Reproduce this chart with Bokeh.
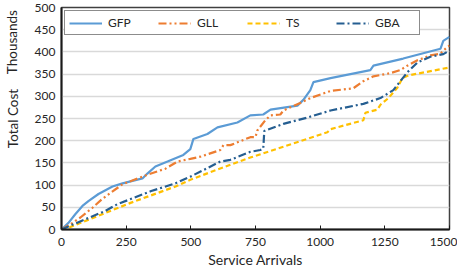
import math
from bokeh.plotting import figure
from bokeh.models import Range1d, FixedTicker, LinearAxis
from bokeh.embed import file_html
from bokeh.resources import INLINE

# ---- data (cost in thousands) ----
gfp_x = [0, 27, 54, 81, 104, 143, 197, 236, 313, 332, 363, 410, 471, 498, 510, 564, 603, 680, 730, 780, 808, 912, 935, 962, 974, 1040, 1194, 1206, 1321, 1465, 1476, 1500]
gfp_y = [0, 15, 35, 53, 64, 80, 97, 104, 115, 126, 142, 153, 168, 181, 204, 215, 230, 241, 257, 259, 270, 279, 292, 314, 332, 341, 359, 369, 385, 407, 425, 434]

gll_x = [0, 43, 73, 120, 158, 236, 286, 336, 402, 448, 498, 537, 614, 626, 653, 730, 750, 757, 788, 808, 846, 858, 923, 962, 1040, 1128, 1167, 1206, 1271, 1310, 1337, 1376, 1426, 1465, 1491, 1500]
gll_y = [0, 15, 27, 49, 69, 102, 113, 124, 137, 153, 159, 164, 179, 190, 190, 208, 208, 223, 246, 257, 259, 268, 285, 296, 312, 318, 334, 345, 352, 359, 369, 381, 392, 396, 411, 414]

ts_x = [0, 27, 267, 441, 498, 653, 730, 1028, 1040, 1167, 1175, 1221, 1233, 1264, 1298, 1318, 1341, 1500]
ts_y = [0, 4, 60, 97, 112, 146, 162, 219, 226, 246, 263, 270, 281, 296, 319, 341, 347, 365]

gba_x = [0, 35, 170, 216, 344, 441, 498, 614, 653, 730, 769, 780, 784, 858, 950, 1040, 1167, 1233, 1283, 1310, 1337, 1376, 1426, 1476, 1500]
gba_y = [0, 9, 42, 57, 86, 104, 119, 153, 157, 175, 179, 182, 222, 238, 252, 268, 283, 296, 314, 334, 354, 376, 389, 395, 403]

x_ticks = [0, 250, 500, 750, 1000, 1250, 1500]
y_ticks = [0, 50, 100, 150, 200, 250, 300, 350, 400, 450, 500]

x_title = "Service Arrivals"
y_title = "Total Cost"
y_unit = "Thousands"

FONT = "Lato"
TXT = "#262626"

p = figure(width=457, height=270, output_backend="svg", toolbar_location=None,
           x_range=Range1d(0, 1500), y_range=Range1d(0, 500),
           min_border_left=61, min_border_right=8, min_border_top=7, min_border_bottom=41,
           background_fill_color="white", border_fill_color="white")

p.line(gfp_x, gfp_y, line_color="#5B9BD5", line_width=2.2, legend_label="GFP")
p.line(gll_x, gll_y, line_color="#ED7D31", line_width=2.2, line_dash="8 3 2 3 2 3", legend_label="GLL")
p.line(ts_x, ts_y, line_color="#FFC000", line_width=2.2, line_dash="5 3", legend_label="TS")
p.line(gba_x, gba_y, line_color="#255E91", line_width=2.2, line_dash="8 3 2 3", legend_label="GBA")

# axes
p.xaxis.ticker = FixedTicker(ticks=x_ticks)
p.yaxis.ticker = FixedTicker(ticks=y_ticks)
p.xaxis.axis_label = x_title
for ax in (p.xaxis, p.yaxis):
    ax.axis_label_text_font = FONT
    ax.axis_label_text_font_style = "normal"
    ax.axis_label_text_font_size = "14px"
    ax.axis_label_text_color = TXT
    ax.major_label_text_font = FONT
    ax.major_label_text_font_size = "12px"
    ax.major_label_text_color = TXT
    ax.axis_line_color = "#1a1a1a"
    ax.axis_line_width = 2
    ax.minor_tick_line_color = None
    ax.major_tick_line_color = "#1a1a1a"
    ax.major_tick_line_width = 1
p.xaxis.major_tick_in = 4
p.xaxis.major_tick_out = 0
p.xaxis.major_label_standoff = 8
p.xaxis.axis_label_standoff = 2
p.yaxis.major_tick_in = 0
p.yaxis.major_tick_out = 0
p.yaxis.major_label_standoff = 6

# outer text column on the left: "Total Cost" (centred) and "Thousands" (near the top)
title_pos = 250
unit_pos = 422
title_axis = LinearAxis(ticker=FixedTicker(ticks=[title_pos, unit_pos]),
                        major_label_overrides={title_pos: y_title, unit_pos: y_unit},
                        major_label_orientation="vertical",
                        major_label_standoff=5,
                        major_label_text_font=FONT,
                        major_label_text_font_size="13.5px",
                        major_label_text_color=TXT,
                        axis_line_color=None, major_tick_line_color=None,
                        minor_tick_line_color=None)
p.add_layout(title_axis, "left")

p.xgrid.grid_line_color = None
p.ygrid.grid_line_color = "#D9D9D9"
p.ygrid.grid_line_width = 1.5

p.outline_line_color = "#404040"
p.outline_line_width = 1.5

# legend
lg = p.legend[0]
lg.orientation = "horizontal"
lg.location = "top_left"
lg.margin = 3
lg.padding = 4
lg.spacing = 10
lg.glyph_width = 33
lg.glyph_height = 12
lg.label_width = 40
lg.label_standoff = 6
lg.label_text_font = FONT
lg.label_text_font_size = "12px"
lg.label_text_color = TXT
lg.border_line_color = "#1a1a1a"
lg.border_line_width = 1
lg.background_fill_color = "white"
lg.background_fill_alpha = 1

open("out.html", "w").write(file_html(p, INLINE))
